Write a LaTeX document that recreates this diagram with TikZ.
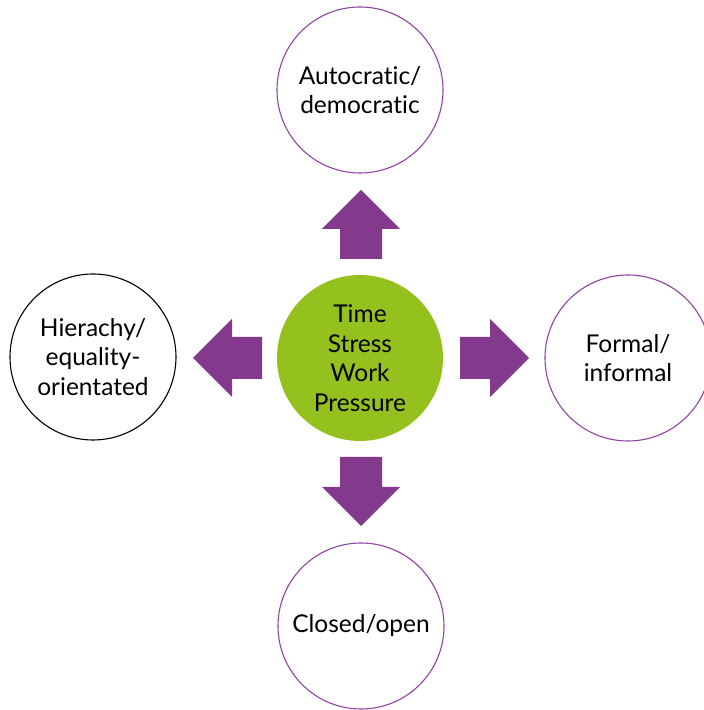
\documentclass[tikz,border=0pt]{standalone}
\usepackage{fontspec}
\setmainfont{Lato}[Ligatures={NoCommon}]
\usepackage{tikz}
\usetikzlibrary{positioning,shapes,arrows.meta}
\usepackage{xcolor}

\definecolor{leafgreen}{HTML}{95C11F}
\definecolor{plum}{HTML}{833A8C}
\definecolor{plumline}{HTML}{8E44A0}

\tikzset{
  bubble/.style={circle, draw=plumline, line width=1.1pt, minimum size=166pt,
    inner sep=0pt, align=center, font=\fontsize{24.5}{29.5}\selectfont},
  hub/.style={bubble, draw=none, fill=leafgreen},
  fatarrow/.style={fill=plum}
}
% block arrow: tail point, direction
\newcommand{\blockarrow}[2]{
\fill[fatarrow, shift={#1}, rotate=#2] (0,-21) -- (30,-21) -- (30,-39) -- (69,0) -- (30,39) -- (30,21) -- (0,21) -- cycle;
}

\begin{document}
\begin{tikzpicture}[x=1pt,y=1pt]
\useasboundingbox (0,0) rectangle (704,710);
\node[hub] (centre) at (360,352) {Time\\Stress\\Work\\Pressure};
\node[bubble] (autocratic) at (360,620) {Autocratic/\\democratic};
\node[bubble, draw=black] (hierarchy) at (93,353) {Hierachy/\\equality-\\orientated};
\node[bubble] (formal) at (628,352) {Formal/\\informal};
\node[bubble] (closed) at (361,84) {Closed/open};
\blockarrow{(361,451)}{90}
\blockarrow{(262,352)}{180}
\blockarrow{(460,352)}{0}
\blockarrow{(361,253)}{-90}
\end{tikzpicture}
\end{document}
